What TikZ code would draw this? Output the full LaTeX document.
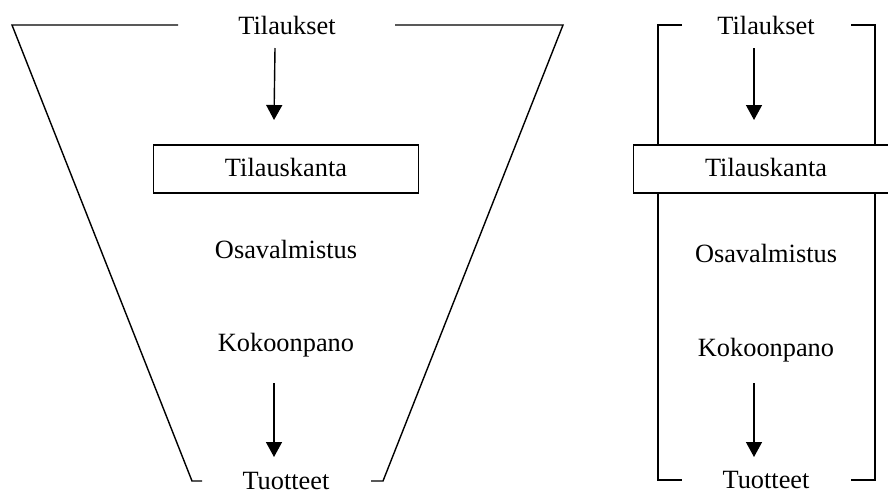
\documentclass[tikz,border=0pt]{standalone}
\usepackage{fontspec}
\setmainfont{Liberation Serif}
\usetikzlibrary{arrows.meta}

\tikzset{
  stage/.style={font=\fontsize{15}{18}\selectfont, text height=11pt, text depth=3pt, inner sep=0pt},
  basebox/.style={stage, draw, fill=white, line width=0.8pt, minimum width=5.3cm, minimum height=0.96cm},
  flow/.style={line width=0.8pt, -{Triangle[length=0.3cm,width=0.32cm]}},
  outline/.style={line width=0.8pt},
  bracket/.style={line width=1.1pt},
}

\begin{document}
\begin{tikzpicture}[x=0.02cm, y=-0.02cm]
  \useasboundingbox (0,0) rectangle (888,491);
  \clip (0,0) rectangle (888,491);

  % funnel
  \draw[outline] (178,25) -- (12,25) -- (192,481) -- (202,481);
  \draw[outline] (395,25) -- (563,25) -- (383,481) -- (371,481);

  \node[stage]   (tilL)   at (287,27)  {Tilaukset};
  \node[basebox] (kantaL) at (286,169) {Tilauskanta};
  \node[stage]   (osaL)   at (286,251) {Osavalmistus};
  \node[stage]   (kokoL)  at (286,344) {Kokoonpano};
  \node[stage]   (tuoL)   at (286,482) {Tuotteet};

  \draw[flow] ([shift={(-12,21)}]tilL.center) -- ([shift={(-12,-49)}]kantaL.center);
  \draw[flow] ([shift={(-12,39)}]kokoL.center) -- ([shift={(-12,-25)}]tuoL.center);

  % brackets
  \draw[bracket] (682,25) -- (658,25) -- (658,480) -- (682,480);
  \draw[bracket] (851,25) -- (875,25) -- (875,480) -- (851,480);

  \node[stage]   (tilR)   at (766,27)  {Tilaukset};
  \node[basebox] (kantaR) at (766,169) {Tilauskanta};
  \node[stage]   (osaR)   at (766,255) {Osavalmistus};
  \node[stage]   (kokoR)  at (766,349) {Kokoonpano};
  \node[stage]   (tuoR)   at (766,481) {Tuotteet};

  \draw[flow] ([shift={(-12,21)}]tilR.center) -- ([shift={(-12,-49)}]kantaR.center);
  \draw[flow] ([shift={(-12,34)}]kokoR.center) -- ([shift={(-12,-24)}]tuoR.center);
\end{tikzpicture}
\end{document}
